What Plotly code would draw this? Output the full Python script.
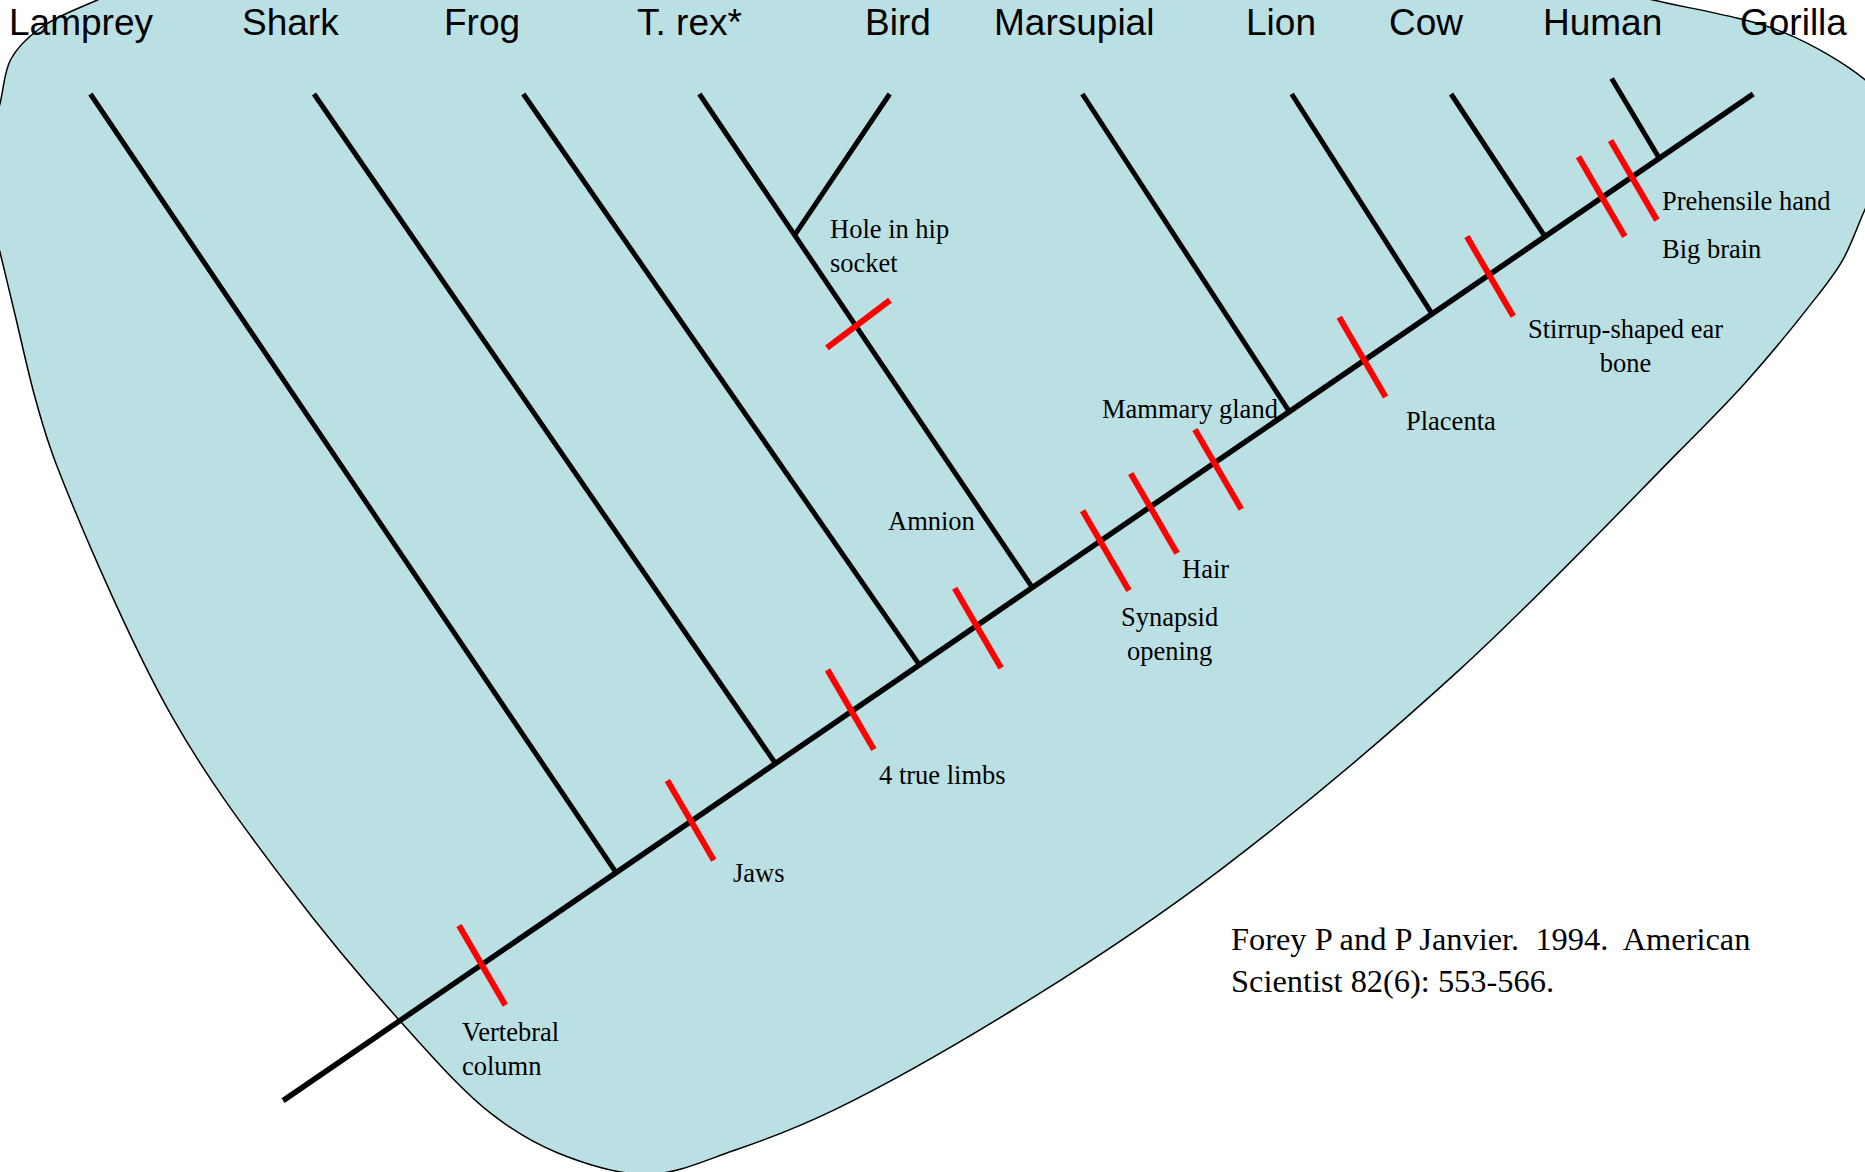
import plotly.graph_objects as go

# Canvas coordinate space (diagram units)
W, H = 1568, 985

# Backbone (root -> Gorilla tip)
backbone_start = (238, 925)
backbone_end = (1474, 79)

# Taxa: label, label x-centre, branch tip (x, y), node x on backbone
taxa = ["Lamprey", "Shark", "Frog", "T. rex*", "Bird", "Marsupial", "Lion", "Cow", "Human", "Gorilla"]
taxa_label_x = [68, 244, 405, 580, 755, 903, 1077, 1199, 1347, 1508]
taxa_label_y = 19
branch_tip_x = [76, 264, 440, 588, 748, 910, 1086, 1220, 1355]
branch_tip_y = [79, 79, 79, 79, 79, 79, 79, 79, 66]
branch_node_x = [518, 652, 773, 868, None, 1084, 1204, 1299, 1395]
bird_node_frac = 0.286  # where Bird joins along the T. rex branch (from tip)

# Characters on backbone: crossing x along backbone
chars = ["Vertebral column", "Jaws", "4 true limbs", "Amnion", "Synapsid opening", "Hair",
         "Mammary gland", "Placenta", "Stirrup-shaped ear bone", "Big brain", "Prehensile hand"]
char_x = [405, 581, 716, 821, 925, 967, 1021, 1147, 1252, 1347, 1372]
char_top_frac = [0.49, 0.51, 0.52, 0.47, 0.38, 0.42, 0.42, 0.54, 0.48, 0.51, 0.46]
tick_vec = (39, 67)
# Hole in hip socket: on the T. rex branch
hip_frac = 0.47  # fraction along T. rex branch from tip
hip_vec = (53, -40)

# Character labels: text, x, y, anchor
label_text = ["Vertebral<br>column", "Jaws", "4 true limbs", "Amnion", "Synapsid<br>opening", "Hair",
              "Mammary gland", "Placenta", "Stirrup-shaped ear<br>bone", "Big brain", "Prehensile hand",
              "Hole in hip<br>socket"]
label_x = [387, 615, 737, 745, 983, 992, 925, 1180, 1367, 1396, 1396, 696]
label_y = [882, 734, 651, 438, 533, 478, 344, 354, 291, 209, 169, 207]
label_anchor = ["left", "left", "left", "left", "center", "left", "left", "left", "center", "left", "left", "left"]

citation = "Forey P and P Janvier.\u00a0 1994.\u00a0 American<br>Scientist 82(6): 553-566."
citation_x, citation_y = 1033, 807

# Blob outline (points beyond the canvas are clipped)
blob_x = [0, 9, 32, 82, 180, 450, 800, 1100, 1300, 1390, 1499, 1568, 1587, 1594, 1588, 1570,
          1549, 1519, 1467, 1411, 1227, 1026, 869, 701, 617, 545,
          469, 413, 338, 241, 145, 48, 30, 13, 0, -16, 0]
blob_y = [87, 50, 25, 0, -35, -75, -85, -55, -20, 0, 27, 67, 88, 115, 142, 172,
          219, 260, 322, 380, 563, 731, 838, 933, 967, 987,
          969, 936, 860, 743, 603, 392, 336, 266, 212, 150, 87]

fill_color = "#BBE0E3"

def backbone_y(x):
    (x0, y0), (x1, y1) = backbone_start, backbone_end
    return y0 + (y1 - y0) * (x - x0) / (x1 - x0)

fig = go.Figure()

# Blob
fig.add_trace(go.Scatter(x=blob_x, y=blob_y, mode="lines", fill="toself", fillcolor=fill_color,
                         line=dict(color="black", width=1.5, shape="spline", smoothing=1.0),
                         hoverinfo="skip", showlegend=False))

# Black branches
bx, by = [], []
trex_node = None
for i, tx in enumerate(branch_tip_x):
    nx = branch_node_x[i]
    if nx is None:
        continue
    bx += [tx, nx, None]
    by += [branch_tip_y[i], backbone_y(nx), None]
    if taxa[i] == "T. rex*":
        trex_node = (nx, backbone_y(nx))
        trex_tip = (tx, branch_tip_y[i])
# Bird branch
bi = taxa.index("Bird")
bj = (trex_tip[0] + (trex_node[0] - trex_tip[0]) * bird_node_frac,
      trex_tip[1] + (trex_node[1] - trex_tip[1]) * bird_node_frac)
bx += [branch_tip_x[bi], bj[0], None]
by += [branch_tip_y[bi], bj[1], None]

fig.add_trace(go.Scatter(x=bx, y=by, mode="lines", line=dict(color="black", width=5),
                         hoverinfo="skip", showlegend=False))
fig.add_trace(go.Scatter(x=[backbone_start[0], backbone_end[0]], y=[backbone_start[1], backbone_end[1]],
                         mode="lines", line=dict(color="black", width=5.5),
                         hoverinfo="skip", showlegend=False))

# Red character ticks
rx, ry = [], []
for cx, f in zip(char_x, char_top_frac):
    cy = backbone_y(cx)
    rx += [cx - f * tick_vec[0], cx + (1 - f) * tick_vec[0], None]
    ry += [cy - f * tick_vec[1], cy + (1 - f) * tick_vec[1], None]
hx = trex_tip[0] + (trex_node[0] - trex_tip[0]) * hip_frac
hy = trex_tip[1] + (trex_node[1] - trex_tip[1]) * hip_frac
rx += [hx - 0.46 * hip_vec[0], hx + 0.54 * hip_vec[0], None]
ry += [hy - 0.46 * hip_vec[1], hy + 0.54 * hip_vec[1], None]
fig.add_trace(go.Scatter(x=rx, y=ry, mode="lines", line=dict(color="#FF0000", width=6),
                         hoverinfo="skip", showlegend=False))

annotations = []
for name, lx in zip(taxa, taxa_label_x):
    annotations.append(dict(x=lx, y=taxa_label_y, text=name, showarrow=False, xanchor="center",
                            yanchor="middle", font=dict(family="Liberation Sans, Arial, sans-serif",
                                                        size=37, color="black")))
for t, lx, ly, a in zip(label_text, label_x, label_y, label_anchor):
    annotations.append(dict(x=lx, y=ly, text=t, showarrow=False, xanchor=a, align=a,
                            yanchor="middle", font=dict(family="Liberation Serif, Times New Roman, serif",
                                                        size=26.5, color="black")))
annotations.append(dict(x=citation_x, y=citation_y, text=citation, showarrow=False, xanchor="left",
                        align="left", yanchor="middle",
                        font=dict(family="Liberation Serif, Times New Roman, serif", size=32.4, color="black")))

fig.update_layout(width=1865, height=1172, margin=dict(l=0, r=0, t=0, b=0),
                  paper_bgcolor="white", plot_bgcolor="white", showlegend=False,
                  annotations=annotations,
                  xaxis=dict(range=[0, W], visible=False, fixedrange=True),
                  yaxis=dict(range=[H, 0], visible=False, fixedrange=True))

fig.write_html("out.html", config={"displayModeBar": False},
               post_script="document.body.style.margin='0';document.body.style.overflow='hidden';")
